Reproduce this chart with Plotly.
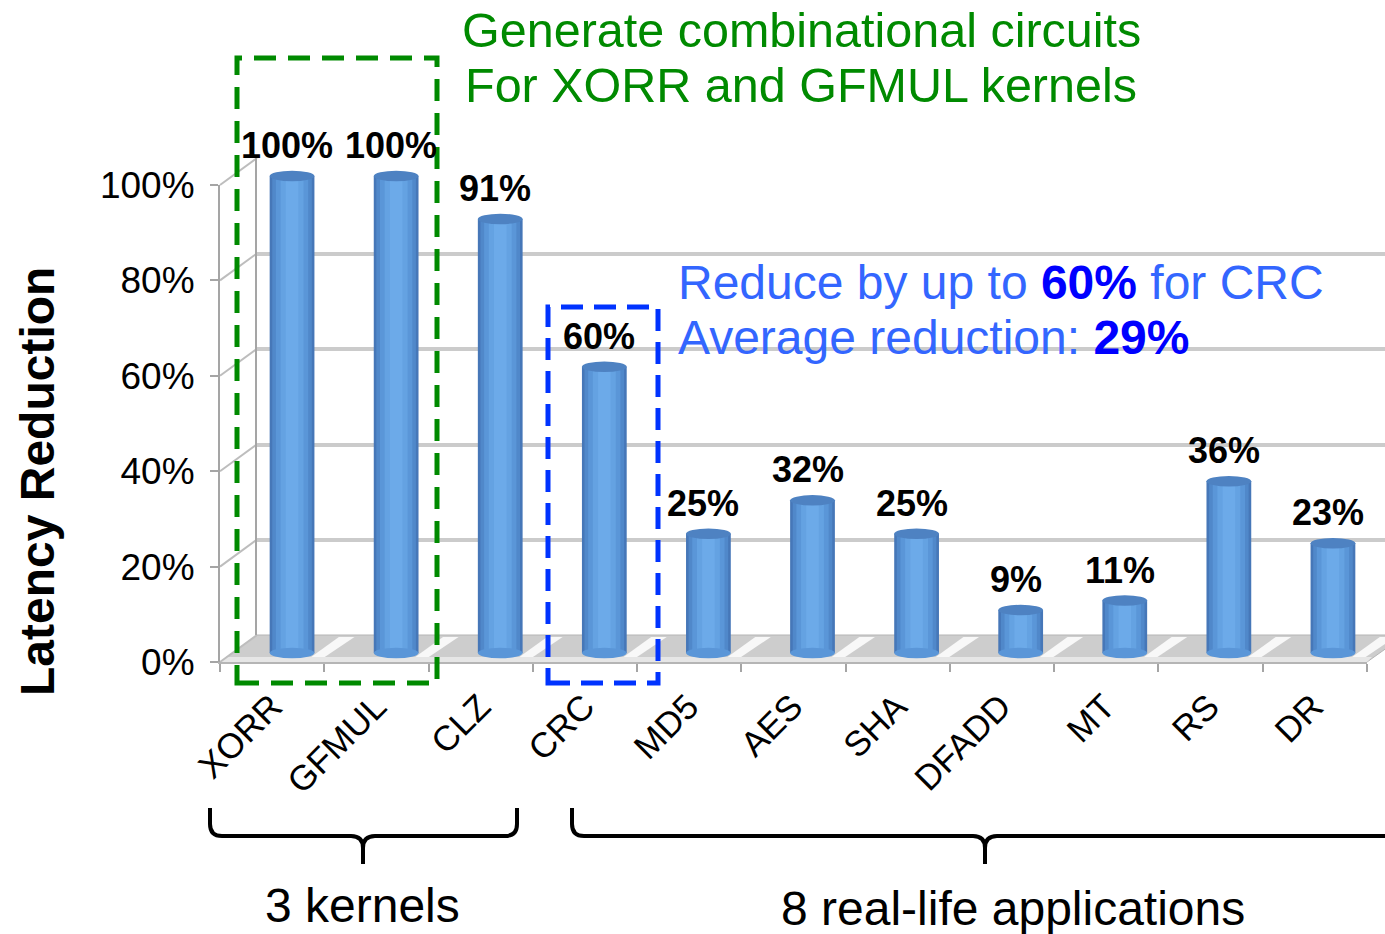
import plotly.graph_objects as go

W, H = 1385, 934

categories = ["XORR", "GFMUL", "CLZ", "CRC", "MD5", "AES", "SHA", "DFADD", "MT", "RS", "DR"]
values = [100, 100, 91, 60, 25, 32, 25, 9, 11, 36, 23]
value_labels = ["100%", "100%", "91%", "60%", "25%", "32%", "25%", "9%", "11%", "36%", "23%"]
tick_values = [0, 20, 40, 60, 80, 100]
tick_labels = ["0%", "20%", "40%", "60%", "80%", "100%"]

title_lines = ["Generate combinational circuits", "For XORR and GFMUL kernels"]
blue_lines = ["Reduce by up to <b style='color:#0000ff'>60%</b> for CRC",
              "Average reduction: <b style='color:#0000ff'>29%</b>"]
group_labels = ["3 kernels", "8 real-life applications"]

FONT = "Liberation Sans, Arial, Helvetica, sans-serif"


def fx(px):
    return px / W


def fy(py):
    return 1 - py / H


# pixel geometry of the pseudo-3D frame
PX_PER_PCT = 4.77
BAR_BASE_PY = 653

fig = go.Figure()

# --- subplot 1 (x, y): back wall gridlines
fig.add_trace(go.Scatter(x=[], y=[], xaxis="x", yaxis="y", showlegend=False, hoverinfo="skip"))
# --- subplot 2 (x2, y2): front axis with tick labels
fig.add_trace(go.Scatter(x=[], y=[], xaxis="x2", yaxis="y2", showlegend=False, hoverinfo="skip"))

# --- subplot 3 (x3, y3): cylinders, drawn as overlaid bars for shading
shade_layers = [(0.43, "#4677b8"), (0.38, "#5088ca"), (0.31, "#5a96d8"),
                (0.22, "#64a2e2"), (0.12, "#6caae9")]
for w, c in shade_layers:
    fig.add_trace(go.Bar(x=categories, y=values, width=w, marker_color=c,
                         marker_line_width=0, xaxis="x3", yaxis="y3",
                         showlegend=False, hoverinfo="skip"))

shapes = []

# floor
floor = [(220, 662), (1367, 662), (1405, 635), (257, 635)]
path = "M " + " L ".join(f"{fx(a)},{fy(b)}" for a, b in floor) + " Z"
shapes.append(dict(type="path", xref="paper", yref="paper", path=path,
                   fillcolor="#cdcdcd", line=dict(color="#b5b5b5", width=1), layer="below"))
# highlight stripes on the floor between cylinders
for i in range(len(categories)):
    pts = [(i + 0.17, 658), (i + 0.30, 658), (i + 0.60, 637), (i + 0.45, 637)]
    spath = "M " + " L ".join(f"{a},{fy(b)}" for a, b in pts) + " Z"
    shapes.append(dict(type="path", xref="x3", yref="paper", path=spath,
                       fillcolor="rgba(255,255,255,0.85)", line=dict(width=0), layer="below"))
# front face of floor
face = [(220, 662), (1367, 662), (1372, 657), (226, 657)]
path = "M " + " L ".join(f"{fx(a)},{fy(b)}" for a, b in face) + " Z"
shapes.append(dict(type="path", xref="paper", yref="paper", path=path,
                   fillcolor="#e6e6e6", line=dict(width=0), layer="below"))

# side wall diagonals connecting front ticks to back gridlines
for t in tick_values:
    front = 662 - PX_PER_PCT * t
    back = 635 - PX_PER_PCT * t
    shapes.append(dict(type="line", xref="paper", yref="paper",
                       x0=fx(220), y0=fy(front), x1=fx(257), y1=fy(back),
                       line=dict(color="#bdbdbd", width=2), layer="below"))

# cylinder caps and rounded bottoms
for i, v in enumerate(values):
    shapes.append(dict(type="circle", xref="x3", yref="y3",
                       x0=i - 0.215, x1=i + 0.215, y0=-1.1, y1=1.1,
                       fillcolor="#5a96d8", line=dict(width=0), layer="above"))
    shapes.append(dict(type="circle", xref="x3", yref="y3",
                       x0=i - 0.215, x1=i + 0.215, y0=v - 1.1, y1=v + 1.1,
                       fillcolor="#4e82c2", line=dict(width=0), layer="above"))

# dashed highlight boxes
shapes.append(dict(type="rect", xref="paper", yref="paper",
                   x0=fx(237), x1=fx(437), y0=fy(683), y1=fy(58),
                   line=dict(color="#008a00", width=5, dash="22px,12px"), layer="above"))
shapes.append(dict(type="rect", xref="paper", yref="paper",
                   x0=fx(548), x1=fx(658), y0=fy(683), y1=fy(307),
                   line=dict(color="#0033ff", width=5, dash="22px,11px"), layer="above"))


def brace(xl, xr, xt, yt, ym, ytip, r=12):
    p = lambda a, b: f"{fx(a)},{fy(b)}"
    return (f"M {p(xl, yt)} L {p(xl, ym - r)} Q {p(xl, ym)} {p(xl + r, ym)} "
            f"L {p(xt - r, ym)} Q {p(xt, ym)} {p(xt, ym + r)} L {p(xt, ytip)} "
            f"M {p(xt, ym + r)} Q {p(xt, ym)} {p(xt + r, ym)} "
            f"L {p(xr - r, ym)} Q {p(xr, ym)} {p(xr, ym - r)} L {p(xr, yt)}")


shapes.append(dict(type="path", xref="paper", yref="paper",
                   path=brace(210, 517, 363, 808, 836, 864),
                   line=dict(color="black", width=4)))
shapes.append(dict(type="path", xref="paper", yref="paper",
                   path=brace(572, 1420, 985, 808, 836, 864),
                   line=dict(color="black", width=4)))

annotations = []
# value labels above the cylinders
for i, (v, lab) in enumerate(zip(values, value_labels)):
    annotations.append(dict(x=i, y=v, xref="x3", yref="y3", text=f"<b>{lab}</b>",
                            showarrow=False, yanchor="bottom", xanchor="center",
                            yshift=8, xshift=-5,
                            font=dict(family=FONT, size=36, color="black")))

# y title
annotations.append(dict(x=fx(37), y=fy(482), xref="paper", yref="paper",
                        text="<b>Latency Reduction</b>", textangle=-90, showarrow=False,
                        xanchor="center", yanchor="middle",
                        font=dict(family=FONT, size=48, color="black")))
# green title
for line, py in zip(title_lines, [30, 85]):
    annotations.append(dict(x=fx(801), y=fy(py), xref="paper", yref="paper", text=line,
                            showarrow=False, xanchor="center", yanchor="middle",
                            font=dict(family=FONT, size=48.5, color="#008a00")))
# blue note
for line, py in zip(blue_lines, [282, 337]):
    annotations.append(dict(x=fx(676), y=fy(py), xref="paper", yref="paper", text=line,
                            showarrow=False, xanchor="left", yanchor="middle",
                            font=dict(family=FONT, size=48, color="#3366ff")))
# group labels
for lab, px, py in zip(group_labels, [362, 1013], [905, 908]):
    annotations.append(dict(x=fx(px), y=fy(py), xref="paper", yref="paper", text=lab,
                            showarrow=False, xanchor="center", yanchor="middle",
                            font=dict(family=FONT, size=48, color="black")))

bar_range = [(BAR_BASE_PY - H) / PX_PER_PCT, BAR_BASE_PY / PX_PER_PCT]

fig.update_layout(
    template="none",
    width=W, height=H,
    margin=dict(l=0, r=0, t=0, b=0, pad=0, autoexpand=False),
    paper_bgcolor="white", plot_bgcolor="rgba(0,0,0,0)",
    barmode="overlay",
    showlegend=False,
    font=dict(family=FONT, color="black"),
    # back wall grid
    xaxis=dict(domain=[fx(257), 1], range=[0, 1], visible=False, anchor="y",
               automargin=False),
    yaxis=dict(domain=[fy(635), fy(158)], range=[0, 100.2], anchor="x",
               tickvals=tick_values, showticklabels=False, ticks="",
               showgrid=True, gridcolor="#cbcbcb", gridwidth=4,
               zeroline=False, showline=True, linecolor="#a5a5a5", linewidth=2,
               automargin=False),
    # front axis
    xaxis2=dict(domain=[fx(220), fx(1367)], range=[0, 11], anchor="y2",
                tickvals=list(range(12)), showticklabels=False, ticks="outside",
                ticklen=8, tickwidth=2, tickcolor="#a5a5a5",
                showgrid=False, zeroline=False, showline=True,
                linecolor="#b5b5b5", linewidth=2, automargin=False),
    yaxis2=dict(domain=[fy(662), fy(185)], range=[0, 100], anchor="x2",
                tickmode="array", tickvals=tick_values, ticktext=tick_labels,
                ticks="outside", ticklen=8, tickwidth=2, tickcolor="#a5a5a5",
                ticklabelstandoff=8,
                showgrid=False, zeroline=False, showline=True,
                linecolor="#a5a5a5", linewidth=2, automargin=False,
                tickfont=dict(family=FONT, size=37, color="black")),
    # cylinders
    xaxis3=dict(domain=[fx(240), 1], anchor="free", position=fy(678),
                type="category", range=[-0.5, len(categories) - 0.5],
                tickangle=-45, ticks="", showline=False,
                ticklabelshift=-20,
                showgrid=False, zeroline=False, automargin=False,
                tickfont=dict(family=FONT, size=35, color="black")),
    yaxis3=dict(domain=[0, 1], range=bar_range, anchor="x3", visible=False,
                automargin=False),
    shapes=shapes,
    annotations=annotations,
)

fig.write_html("out.html", config={"displayModeBar": False},
               post_script="document.body.style.margin='0';document.body.style.overflow='hidden';")
